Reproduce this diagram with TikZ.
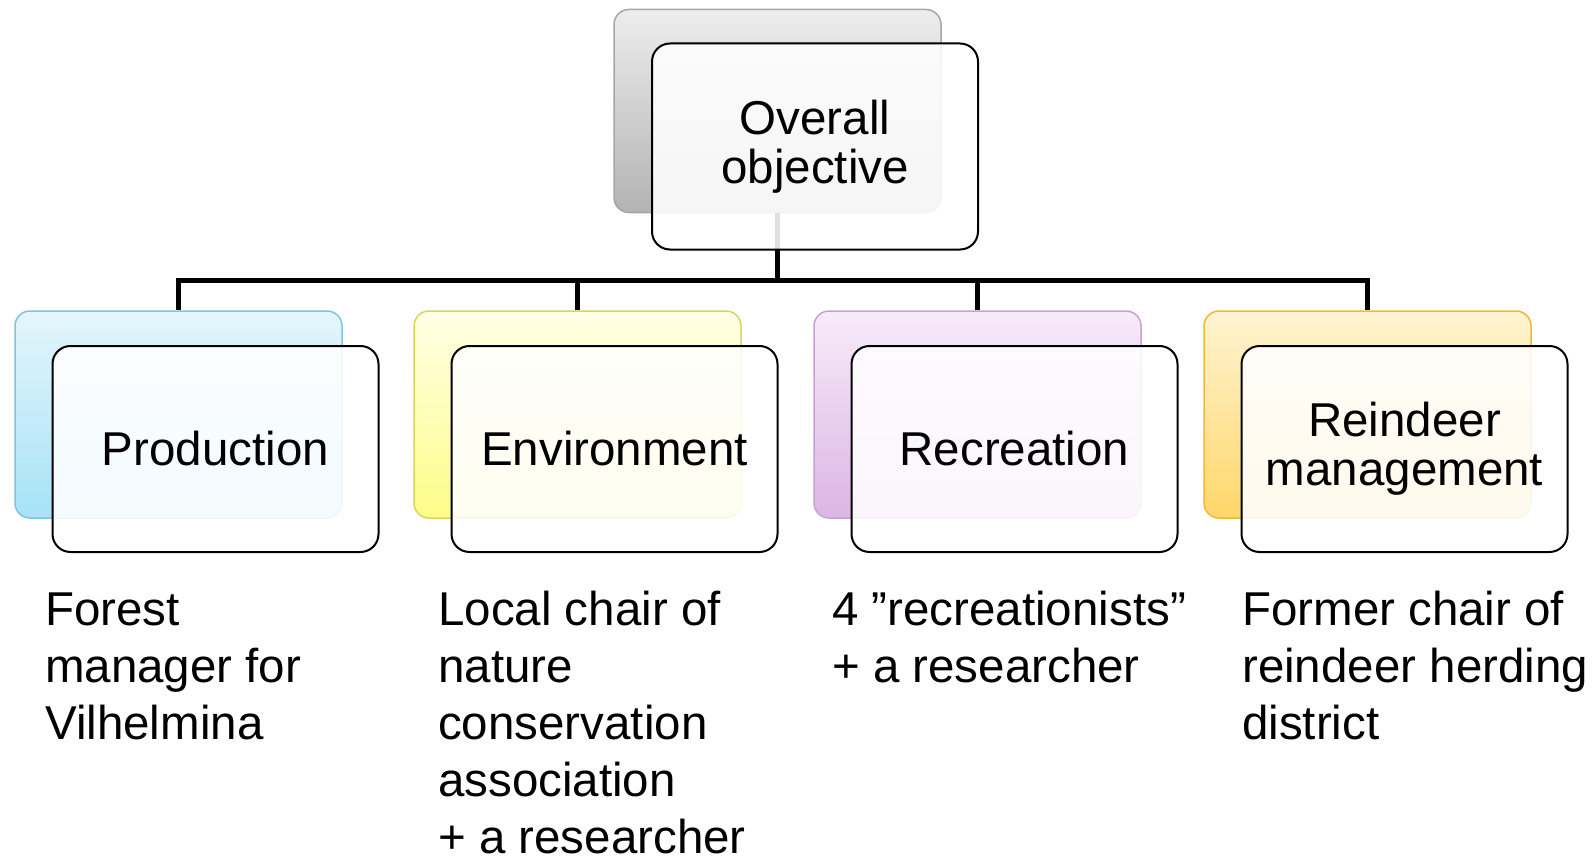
\documentclass[tikz,border=0pt]{standalone}
\usepackage{fontspec}
\setmainfont{Liberation Sans}
\usepackage{xcolor}
\usetikzlibrary{calc, positioning}

\definecolor{grayTop}{HTML}{EDEDED}
\definecolor{grayBot}{HTML}{B3B3B3}
\definecolor{grayLine}{HTML}{A6A6A6}
\definecolor{blueTop}{HTML}{E4F6FC}
\definecolor{blueBot}{HTML}{A6E2F6}
\definecolor{blueLine}{HTML}{7EC5DD}
\definecolor{yellowTop}{HTML}{FFFFE6}
\definecolor{yellowBot}{HTML}{FDFD88}
\definecolor{yellowLine}{HTML}{D6D65C}
\definecolor{lilacTop}{HTML}{F7EBF9}
\definecolor{lilacBot}{HTML}{DCB5E5}
\definecolor{lilacLine}{HTML}{C9A0D2}
\definecolor{amberTop}{HTML}{FFF4D2}
\definecolor{amberBot}{HTML}{FFD66A}
\definecolor{amberLine}{HTML}{EFB83A}

\begin{document}
\begin{tikzpicture}[x=1pt, y=-1pt, % picture measured in pixels
 back/.style args = {#1/#2/#3}{rounded corners=15pt,
              top color=#1, bottom color=#2, draw=#3, line width=1.5pt,
              minimum width=327pt, minimum height=207pt, inner sep=0pt},
front/.style = {draw, line width=2pt, rounded corners=18pt,
              fill=white, fill opacity=0.88, text opacity=1,
              minimum width=326pt, minimum height=206pt, inner sep=0pt,
              align=center, font=\fontsize{47.5}{49}\selectfont},
 link/.style = {line width=4.5pt},
  who/.style = {anchor=base west, align=left, inner sep=0pt,
              font=\fontsize{47.5}{57}\selectfont} % base = last line
                    ]
	\useasboundingbox (0,0) rectangle (1596,859);

	% shaded boxes behind
	\node[back=grayTop/grayBot/grayLine, minimum height=203pt] (objB) at (777.5,111) {};
	\node[back=blueTop/blueBot/blueLine]       (prodB) at (178.5,414.5) {};
	\node[back=yellowTop/yellowBot/yellowLine] (envB)  at (577.5,414.5) {};
	\node[back=lilacTop/lilacBot/lilacLine]    (recB)  at (977.5,414.5) {};
	\node[back=amberTop/amberBot/amberLine]    (reinB) at (1367.5,414.5) {};

	% tree lines
	\foreach \kid in {prodB, envB, recB, reinB}
		\draw[link] (objB.south) -- ++(0,67) -| (\kid.north);

	% white boxes in front
	\node[front] (objF)  at ($(objB)+(37.5,35.5)$)  {Overall\\objective};
	\node[front] (prodF) at ($(prodB)+(37,34.5)$)  {Production};
	\node[front] (envF)  at ($(envB)+(37,34.5)$)   {Environment};
	\node[front] (recF)  at ($(recB)+(37,34.5)$)   {Recreation};
	\node[front] (reinF) at ($(reinB)+(37,34.5)$)  {Reindeer\\management};

	% members of each group (placed by the baseline of the last line)
	\node[who] (prodW) at (45,739)   {Forest\\manager for\\Vilhelmina};
	\node[who] (envW)  at (438,853)  {Local chair of\\nature\\conservation\\association\\+ a researcher};
	\node[who] (recW)  at (832,682)  {4 ”recreationists”\\+ a researcher};
	\node[who] (reinW) at (1242,739) {Former chair of\\reindeer herding\\district};
\end{tikzpicture}
\end{document}
